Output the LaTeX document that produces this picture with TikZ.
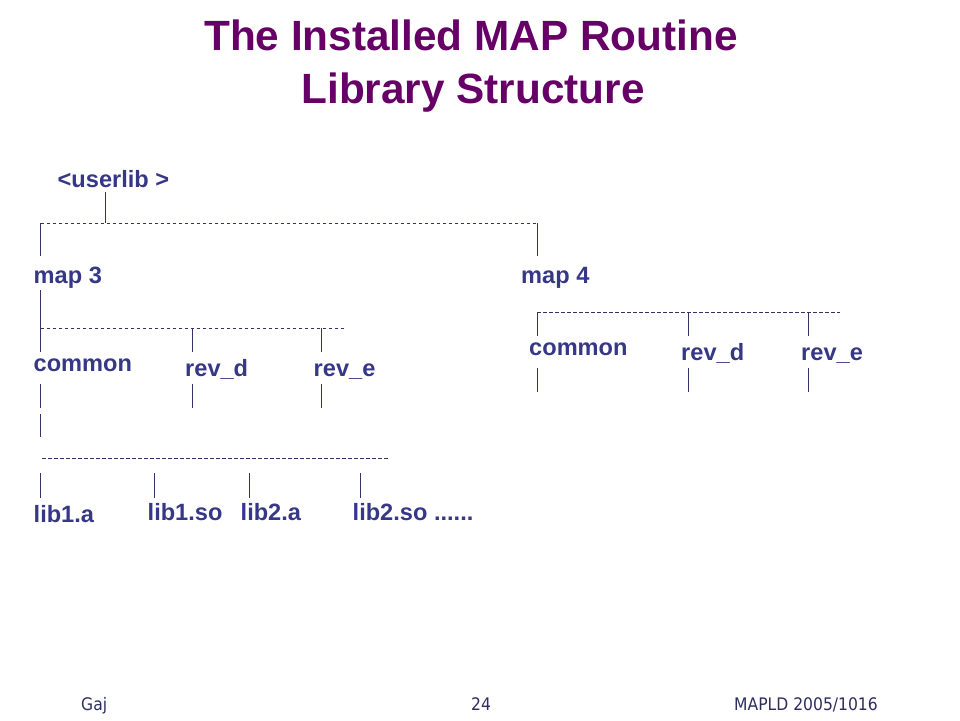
\documentclass[tikz,border=0pt]{standalone}
\usepackage{fontspec}
\setmainfont{Liberation Sans}
\newfontfamily\footfont[FakeStretch=0.9]{DejaVu Sans}
\usetikzlibrary{positioning}
\definecolor{titlepurple}{RGB}{102,0,102}
\definecolor{dirblue}{RGB}{55,55,135}
\definecolor{treeline}{RGB}{51,51,102}
\definecolor{footblue}{RGB}{45,45,95}
\tikzset{%
    % directory names
    dir/.style   = {anchor=base west, inner sep=0pt, text=dirblue,
    font=\fontsize{23.6}{28}\selectfont\bfseries},
    % tree lines
    stem/.style  = {draw=treeline, line width=0.9pt},
    bar/.style   = {stem, dash pattern=on 3.5pt off 2.5pt},
}
\begin{document}
\begin{tikzpicture}[x=1pt,y=-1pt]
	\useasboundingbox (0,0) rectangle (960,720);

	\tikzstyle{title}=[anchor=base, inner sep=0pt, text=titlepurple, font=\fontsize{42.3}{50}\selectfont\bfseries]
	\tikzstyle{foot}=[anchor=base, inner sep=0pt, text=footblue, font=\footfont\fontsize{17.3}{20}\selectfont]

	% titre
	\node[title] (title1) at (471,50) {The Installed MAP Routine};
	\node[title] (title2) at (473,103) {Library Structure};

	% placement des noeuds
	\node[dir] (userlib) at (57.5,187) {<userlib >};
	\node[dir] (map3) at (33.5,283) {map 3};
	\node[dir] (map4) at (521,283) {map 4};
	\node[dir] (common3) at (33.5,371) {common};
	\node[dir] (revd3) at (185,376) {rev\_d};
	\node[dir] (reve3) at (313.5,376) {rev\_e};
	\node[dir] (common4) at (529,355) {common};
	\node[dir] (revd4) at (681,360) {rev\_d};
	\node[dir] (reve4) at (801,360) {rev\_e};
	\node[dir] (lib1a) at (33.5,522) {lib1.a};
	\node[dir] (lib1so) at (147.5,520) {lib1.so};
	\node[dir] (lib2a) at (240.5,520) {lib2.a};
	\node[dir] (lib2so) at (352.5,520) {lib2.so ......};

	% points of the tree
	\coordinate (userlib-s) at (105,192);
	\coordinate (userlib-j) at (105,223);
	\coordinate (map3-j) at (40.5,223);
	\coordinate (map4-j) at (537,223);
	\coordinate (map3-n) at (40.5,256);
	\coordinate (map4-n) at (537,256);
	\coordinate (map3-s) at (40.5,290);
	\coordinate (common3-n) at (40.5,352);
	\coordinate (common3-j) at (40.5,328);
	\coordinate (bar3-e) at (346,328);
	\coordinate (revd3-j) at (192,328);
	\coordinate (revd3-n) at (192,352);
	\coordinate (reve3-j) at (321,328);
	\coordinate (reve3-n) at (321,352);
	\coordinate (common3-s) at (40.5,384);
	\coordinate (common3-m) at (40.5,408);
	\coordinate (common3-k) at (40.5,414);
	\coordinate (common3-t) at (40.5,437);
	\coordinate (revd3-s) at (192,384);
	\coordinate (revd3-t) at (192,408);
	\coordinate (reve3-s) at (321,384);
	\coordinate (reve3-t) at (321,408);
	\coordinate (libs-w) at (42,458);
	\coordinate (libs-e) at (388,458);
	\coordinate (lib1a-j) at (40.5,473);
	\coordinate (lib1a-n) at (40.5,498);
	\coordinate (lib1so-j) at (154,473);
	\coordinate (lib1so-n) at (154,498);
	\coordinate (lib2a-j) at (249,473);
	\coordinate (lib2a-n) at (249,498);
	\coordinate (lib2so-j) at (360,473);
	\coordinate (lib2so-n) at (360,498);
	\coordinate (common4-j) at (537,312);
	\coordinate (bar4-e) at (840,312);
	\coordinate (common4-n) at (537,336);
	\coordinate (revd4-j) at (688,312);
	\coordinate (revd4-n) at (688,336);
	\coordinate (reve4-j) at (808,312);
	\coordinate (reve4-n) at (808,336);
	\coordinate (common4-s) at (537,368);
	\coordinate (common4-t) at (537,392);
	\coordinate (revd4-s) at (688,368);
	\coordinate (revd4-t) at (688,392);
	\coordinate (reve4-s) at (808,368);
	\coordinate (reve4-t) at (808,392);

	% <userlib >
	\draw[stem] (userlib-s) -- (userlib-j);
	\draw[bar] (map3-j) -- (map4-j);
	\draw[stem] (map3-j) -- (map3-n);
	\draw[stem] (map4-j) -- (map4-n);

	% map 3
	\draw[stem] (map3-s) -- (common3-n);
	\draw[bar] (common3-j) -- (bar3-e);
	\draw[stem] (revd3-j) -- (revd3-n);
	\draw[stem] (reve3-j) -- (reve3-n);
	\draw[stem] (common3-s) -- (common3-m);
	\draw[stem] (common3-k) -- (common3-t);
	\draw[stem] (revd3-s) -- (revd3-t);
	\draw[stem] (reve3-s) -- (reve3-t);

	% common
	\draw[bar] (libs-w) -- (libs-e);
	\draw[stem] (lib1a-j) -- (lib1a-n);
	\draw[stem] (lib1so-j) -- (lib1so-n);
	\draw[stem] (lib2a-j) -- (lib2a-n);
	\draw[stem] (lib2so-j) -- (lib2so-n);

	% map 4
	\draw[bar] (common4-j) -- (bar4-e);
	\draw[stem] (common4-j) -- (common4-n);
	\draw[stem] (revd4-j) -- (revd4-n);
	\draw[stem] (reve4-j) -- (reve4-n);
	\draw[stem] (common4-s) -- (common4-t);
	\draw[stem] (revd4-s) -- (revd4-t);
	\draw[stem] (reve4-s) -- (reve4-t);

	% pied de page
	\node[foot, anchor=base west] (author) at (81,710) {Gaj};
	\node[foot] (pagenum) at (481,710) {24};
	\node[foot, anchor=base east] (confname) at (878,710) {MAPLD 2005/1016};

\end{tikzpicture}
\end{document}
